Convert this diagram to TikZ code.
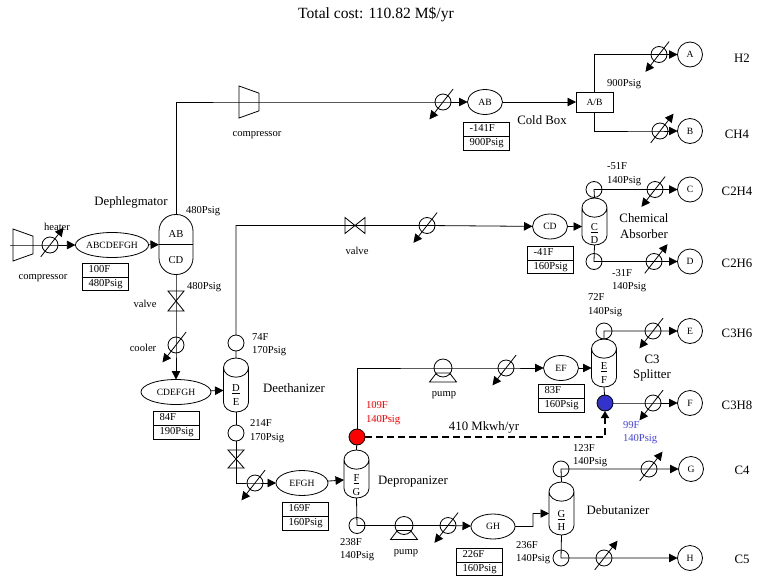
\documentclass[tikz,border=0pt]{standalone}
\usepackage{fontspec}
\setmainfont{Liberation Serif}
\usetikzlibrary{arrows.meta,positioning,shapes.geometric,shapes.multipart}
\definecolor{SepRed}{HTML}{FF0000}
\definecolor{SepBlue}{HTML}{3333CC}
\definecolor{SepBlueText}{HTML}{4444DD}
\tikzset{
  pipe/.style={draw=black,line width=.8pt},
  stream/.style={pipe,-{Triangle[length=8.5pt,width=8.5pt]}},
  hxcirc/.style={circle,draw,line width=.8pt,minimum size=16pt,inner sep=0pt,outer sep=0pt},
  hxup/.style={stream,shorten <=-7pt,shorten >=-14pt},
  hxdown/.style={stream,shorten <=-8.5pt,shorten >=-14pt},
  accum/.style={hxcirc},
  product/.style={hxcirc,minimum size=25pt,font=\fontsize{9.6}{11}\selectfont},
  feedel/.style={ellipse,draw,line width=.8pt,inner sep=0pt,outer sep=0pt,minimum height=25pt,font=\fontsize{9.6}{11}\selectfont},
  column/.style={cylinder,shape border rotate=90,aspect=2.4,draw,line width=.8pt,minimum width=25pt,inner sep=0pt,outer sep=0pt,execute at begin node={\phantom{\rule{8pt}{14pt}}}},
  coltext/.style={inner sep=0pt,outer sep=0pt,align=center,font=\fontsize{10.6}{13.5}\selectfont},
  valvebox/.style={minimum width=20pt,minimum height=16pt,inner sep=0pt,outer sep=0pt},
  compbody/.style={trapezium,shape border rotate=270,trapezium angle=68,trapezium stretches=true,draw,line width=.8pt,minimum width=32pt,minimum height=20pt,inner sep=1pt,outer sep=0pt},
  pumpbase/.style={trapezium,trapezium angle=62,trapezium stretches=true,draw,line width=.8pt,minimum width=27pt,minimum height=9pt,inner sep=1pt,outer sep=0pt},
  propbox/.style={rectangle split,rectangle split parts=2,draw,line width=.8pt,text width=33pt,inner xsep=6.5pt,inner ysep=1.8pt,outer sep=0pt,align=left,text height=7.2pt,text depth=2.3pt,font=\fontsize{10.6}{12}\selectfont},
  lbl/.style={inner sep=0pt,outer sep=0pt,align=left,font=\fontsize{10.6}{13.5}\selectfont},
  unitlbl/.style={inner sep=0pt,outer sep=0pt,align=center,font=\fontsize{12.8}{15.5}\selectfont}
}
\begin{document}
\begin{tikzpicture}[x=1pt,y=-1pt]
    \useasboundingbox (0,0) rectangle (758,576);
    \node[inner sep=0pt,font=\fontsize{15.6}{18}\selectfont] (title) at (376,15) {Total cost: 110.82 M\$/yr};

    \coordinate (feed) at (10,245);
    \node[compbody] (compFeed) at (23,245) {};
    \node[hxcirc] (hxFeed) at (50,245) {};
    \node[feedel,minimum width=72pt] (elFeed) at (112,245) {ABCDEFGH};
    \node[propbox,below=5.5pt of elFeed,xshift=-7pt] (propFeed) {100F\nodepart{two}480Psig};
    \node[draw,line width=.8pt,rounded corners=16.5pt,minimum width=34pt,minimum height=60pt,inner sep=0pt,outer sep=0pt,align=center,font=\fontsize{10.6}{13}\selectfont] (deph) at (176,244.5) {\rule{0pt}{13pt}AB\\[13pt]CD};
    \node[valvebox,minimum width=16pt,minimum height=20pt] (valveDeph) at (176,301) {};
    \node[hxcirc] (hxCool) at (176,345) {};
    \node[feedel,minimum width=70pt] (elCDEFGH) at (176,392) {CDEFGH};
    \node[propbox,below=7pt of elCDEFGH] (propCDEFGH) {84F\nodepart{two}190Psig};

    \node[compbody] (compTop) at (249,102) {};
    \node[hxcirc] (hxAB) at (443,102) {};
    \node[feedel,minimum width=35pt] (elAB) at (485,102) {AB};
    \node[propbox,below=8pt of elAB,xshift=1pt] (propAB) {-141F\nodepart{two}900Psig};
    \node[draw,line width=.8pt,minimum width=37pt,minimum height=20pt,inner sep=0pt,outer sep=0pt,font=\fontsize{9.6}{11}\selectfont] (boxAB) at (594.5,102) {A/B};
    \node[hxcirc] (hxA) at (659,54.5) {};
    \node[product] (prodA) at (690,54.5) {A};
    \node[hxcirc] (hxB) at (660,131) {};
    \node[product] (prodB) at (690,131) {B};

    \node[accum] (topDE) at (236,343) {};
    \node[column,minimum height=54pt] (colDE) at (236,390) {};
    \node[coltext] (txtDE) at (236,395) {\underline{D}\\E};
    \node[accum] (botDE) at (236,433) {};
    \node[valvebox,minimum width=16pt,minimum height=18pt] (valveDE) at (236,459) {};
    \node[valvebox] (valveCD) at (355,225.5) {};
    \node[hxcirc] (hxCD) at (427,225.5) {};
    \node[feedel,minimum width=35pt] (elCD) at (550,226.5) {CD};
    \node[propbox,below=7pt of elCD] (propCD) {-41F\nodepart{two}160Psig};
    \node[column,minimum height=47pt] (colCD) at (594.5,226.5) {};
    \node[coltext] (txtCD) at (594.5,233.5) {\underline{C}\\D};
    \node[accum] (topCD) at (594,189.5) {};
    \node[accum] (botCD) at (594,261.5) {};
    \node[hxcirc] (hxC) at (655,189.5) {};
    \node[product] (prodC) at (690,189.5) {C};
    \node[hxcirc] (hxD) at (654,261.5) {};
    \node[product] (prodD) at (690,261.5) {D};

    \node[hxcirc] (hxEFGH) at (255,483) {};
    \node[feedel,minimum width=52pt] (elEFGH) at (302,483) {EFGH};
    \node[propbox,below=7pt of elEFGH,xshift=3pt] (propEFGH) {169F\nodepart{two}160Psig};
    \node[column,minimum height=48pt] (colFG) at (356.5,479) {};
    \node[coltext] (txtFG) at (356.5,485) {\underline{F}\\G};
    \node[accum,fill=SepRed] (redFG) at (357,437) {};
    \node[hxcirc,minimum size=18pt] (pumpEF) at (443,368) {};
    \node[pumpbase,below=-4pt of pumpEF] (baseEF) {};
    \node[hxcirc] (hxEF) at (506,368) {};
    \node[feedel,minimum width=35pt] (elEF) at (561,368) {EF};
    \node[propbox,below=4pt of elEF] (propEF) {83F\nodepart{two}160Psig};
    \node[column,minimum height=48pt] (colEF) at (604,368) {};
    \node[coltext] (txtEF) at (604,373) {\underline{E}\\F};
    \node[accum] (topEF) at (604,331) {};
    \node[accum,fill=SepBlue] (blueEF) at (605,403) {};
    \node[hxcirc] (hxE) at (653,331) {};
    \node[product] (prodE) at (690,331) {E};
    \node[hxcirc] (hxF) at (653,403) {};
    \node[product] (prodF) at (690,403) {F};

    \node[accum] (botFG) at (357,525.5) {};
    \node[hxcirc,minimum size=18pt] (pumpGH) at (404,525.5) {};
    \node[pumpbase,below=-4pt of pumpGH] (baseGH) {};
    \node[hxcirc] (hxGH) at (448,525.5) {};
    \node[feedel,minimum width=44pt] (elGH) at (493,526.5) {GH};
    \node[propbox,below=9pt of elGH,xshift=-14pt] (propGH) {226F\nodepart{two}160Psig};
    \coordinate (jogGH) at (533,513.5);
    \node[column,minimum height=53pt] (colGH) at (561.5,513.5) {};
    \node[coltext] (txtGH) at (561.5,520.5) {\underline{G}\\H};
    \node[accum] (topGH) at (561,469) {};
    \node[hxcirc] (hxG) at (649,469) {};
    \node[product] (prodG) at (691,469) {G};
    \node[accum] (botGH) at (561,558) {};
    \node[hxcirc] (hxH) at (604,558) {};
    \node[product] (prodH) at (690,558) {H};

    \draw[stream] (feed) -- (hxFeed.center) -- (elFeed);
    \draw[stream] (elFeed) -- (deph);
    \draw[pipe] (deph.west) -- (deph.east);
    \draw[stream] (deph.north) |- (compTop.center) -- (hxAB.center) -- (elAB);
    \draw[stream] (elAB) -- (boxAB);
    \draw[stream] (boxAB.north) |- (hxA.center) -- (prodA);
    \draw[stream] (boxAB.south) |- (hxB.center) -- (prodB);
    \draw[stream] (deph.south) -- (hxCool.center) -- (elCDEFGH);
    \draw[stream] (elCDEFGH) -- (colDE);
    \draw[pipe] (colDE.north) -- (topDE);
    \draw[stream] (topDE) |- (valveCD.center) -- (hxCD.center) -- (elCD);
    \draw[stream] (elCD) -- (colCD);
    \draw[stream] (colCD.north) -- (topCD.center) -- (hxC.center) -- (prodC);
    \draw[stream] (colCD.south) -- (botCD.center) -- (hxD.center) -- (prodD);
    \draw[pipe] (colDE.south) -- (botDE);
    \draw[stream] (botDE) |- (hxEFGH.center) -- (elEFGH);
    \draw[stream] (elEFGH) -- (colFG);
    \draw[pipe] (colFG.north) -- (redFG);
    \draw[stream] (redFG.north) |- (pumpEF.center) -- (hxEF.center) -- (elEF);
    \draw[stream] (elEF) -- (colEF);
    \draw[stream] (colEF.north) -- (topEF.center) -- (hxE.center) -- (prodE);
    \draw[pipe] (colEF.south) -- (blueEF);
    \draw[stream] (blueEF.east) -- (hxF.center) -- (prodF);
    \draw[stream,line width=1.8pt,dash pattern=on 7pt off 4pt,-{Triangle[length=7pt,width=8pt]}] (redFG.east) -| (blueEF.south);
    \draw[stream] (colFG.south) -- (botFG.center) -- (pumpGH.center) -- (hxGH.center) -- (elGH);
    \draw[stream] (elGH.east) -| (jogGH) -- (colGH);
    \draw[stream] (colGH.north) -- (topGH.center) -- (hxG.center) -- (prodG);
    \draw[stream] (colGH.south) -- (botGH.center) -- (hxH.center) -- (prodH);

    \draw[hxup] (hxFeed.232) -- (hxFeed.52);
    \draw[hxdown] (hxCool.52) -- (hxCool.232);
    \draw[hxdown] (hxAB.52) -- (hxAB.232);
    \draw[hxdown] (hxA.52) -- (hxA.232);
    \draw[hxup] (hxB.232) -- (hxB.52);
    \draw[hxdown] (hxCD.52) -- (hxCD.232);
    \draw[hxdown] (hxC.52) -- (hxC.232);
    \draw[hxup] (hxD.232) -- (hxD.52);
    \draw[hxdown] (hxEFGH.52) -- (hxEFGH.232);
    \draw[hxdown] (hxEF.52) -- (hxEF.232);
    \draw[hxdown] (hxE.52) -- (hxE.232);
    \draw[hxdown] (hxF.52) -- (hxF.232);
    \draw[hxdown] (hxGH.52) -- (hxGH.232);
    \draw[hxup] (hxG.232) -- (hxG.52);
    \draw[hxup] (hxH.232) -- (hxH.52);

    \draw[pipe] (valveCD.north west) -- (valveCD.south west) -- (valveCD.north east) -- (valveCD.south east) -- cycle;
    \draw[pipe] (valveDeph.north west) -- (valveDeph.north east) -- (valveDeph.south west) -- (valveDeph.south east) -- cycle;
    \draw[pipe] (valveDE.north west) -- (valveDE.north east) -- (valveDE.south west) -- (valveDE.south east) -- cycle;

    \node[lbl] (lblHeater) at (57,227) {heater};
    \node[lbl] (lblCompFeed) at (43,278) {compressor};
    \node[lbl] (lblCompTop) at (257,135) {compressor};
    \node[lbl] (lblValveDeph) at (145,304) {valve};
    \node[lbl] (lblValveCD) at (357,251) {valve};
    \node[lbl] (lblCooler) at (143,348) {cooler};
    \node[lbl] (lblPumpEF) at (444,395) {pump};
    \node[lbl] (lblPumpGH) at (406,553) {pump};

    \node[lbl,anchor=west] (lblDephTop) at (186,211) {480Psig};
    \node[lbl,anchor=west] (lblDephBot) at (187,287) {480Psig};
    \node[lbl,anchor=west] (lblBoxAB) at (607,84) {900Psig};
    \node[lbl,anchor=west] (lblTopCD) at (607,174) {-51F\\140Psig};
    \node[lbl,anchor=west] (lblBotCD) at (612,280.5) {-31F\\140Psig};
    \node[lbl,anchor=west] (lblTopEF) at (588,305) {72F\\140Psig};
    \node[lbl,anchor=west] (lblTopDE) at (252,344.5) {74F\\170Psig};
    \node[lbl,anchor=west] (lblBotDE) at (250,431) {214F\\170Psig};
    \node[lbl,anchor=west,text=SepRed] (lblRed) at (366,413) {109F\\140Psig};
    \node[lbl,anchor=west,text=SepBlueText] (lblBlue) at (623,432.5) {99F\\140Psig};
    \node[lbl,anchor=west] (lblTopGH) at (573,455.5) {123F\\140Psig};
    \node[lbl,anchor=west] (lblBotFG) at (340,549.5) {238F\\140Psig};
    \node[lbl,anchor=west] (lblBotGH) at (516,552.5) {236F\\140Psig};

    \node[unitlbl] (nameDeph) at (131,202) {Dephlegmator};
    \node[unitlbl] (nameCold) at (542,120) {Cold Box};
    \node[unitlbl] (nameAbs) at (644,226) {Chemical\\Absorber};
    \node[unitlbl] (nameSplit) at (652,368) {C3\\Splitter};
    \node[unitlbl] (nameDeeth) at (294,388) {Deethanizer};
    \node[unitlbl] (nameDeprop) at (413,482) {Depropanizer};
    \node[unitlbl] (nameDebut) at (618,510) {Debutanizer};
    \node[unitlbl] (nameSaving) at (484,427) {410 Mkwh/yr};

    \node[unitlbl] (outH2) at (742,58) {H2};
    \node[unitlbl] (outCH4) at (737,134) {CH4};
    \node[unitlbl] (outC2H4) at (737,191) {C2H4};
    \node[unitlbl] (outC2H6) at (737,263) {C2H6};
    \node[unitlbl] (outC3H6) at (737,333) {C3H6};
    \node[unitlbl] (outC3H8) at (737,405) {C3H8};
    \node[unitlbl] (outC4) at (742,470) {C4};
    \node[unitlbl] (outC5) at (742,559) {C5};
  \end{tikzpicture}
\end{document}
